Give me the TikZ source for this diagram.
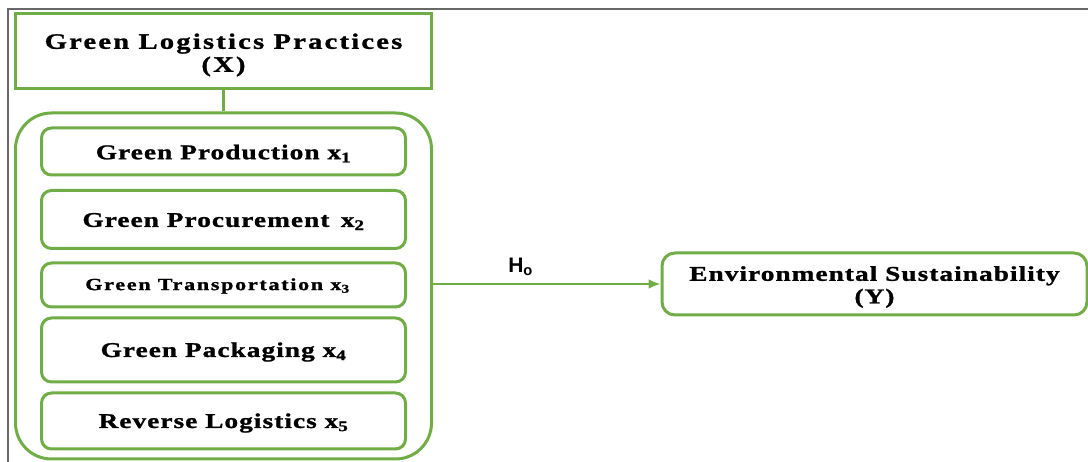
\documentclass[tikz,border=0pt]{standalone}
\usepackage{fontspec}
\setmainfont{Liberation Serif}
\newfontfamily\tb[FakeStretch=1.3,LetterSpace=5,FakeBold=1.2]{Liberation Serif}
\newfontfamily\tbw[FakeStretch=1.3,LetterSpace=10,FakeBold=1.2]{Liberation Serif}
\newfontfamily\hs{Liberation Sans}
\usetikzlibrary{arrows.meta}
\definecolor{gr}{RGB}{112,173,71}
\definecolor{fr}{RGB}{105,105,105}
\begin{document}
\begin{tikzpicture}[x=1pt,y=-1pt,
  gline/.style={draw=gr, line width=3pt},
  itembox/.style={gline, rounded corners=10pt, minimum width=364pt, inner sep=0pt},
  itemtext/.style={inner sep=0pt, align=center, yshift=-2pt, font=\tb\bfseries\fontsize{21}{24}\selectfont},
  bigtext/.style={inner sep=0pt, align=center, yshift=-4pt, font=\tbw\bfseries\fontsize{22}{23}\selectfont},
  frameline/.style={draw=fr, line width=2pt}]
\useasboundingbox (0,0) rectangle (1088,462);
\draw[frameline] (8,462) coordinate (fa) -- (8,9) coordinate (fb) -- (1088,9) coordinate (fc);
\node[gline, inner sep=0pt, minimum width=416pt, minimum height=75pt] (top) at (223.5,51) {};
\node[bigtext] (toptxt) at (top.center) {Green Logistics Practices\\(X)};
\node[gline, rounded corners=36pt, minimum width=416pt, minimum height=346pt, inner sep=0pt] (cont) at (223.5,286) {};
\node[itembox, minimum height=47pt] (p1) at (223.5,151.5) {};
\node[itemtext] (t1) at (p1.center) {Green Production x\textsubscript{1}};
\node[itembox, minimum height=58pt] (p2) at (223.5,219.5) {};
\node[itemtext] (t2) at (p2.center) {Green Procurement\, x\textsubscript{2}};
\node[itembox, minimum height=44pt] (p3) at (223.5,285) {};
\node[itemtext, yshift=1pt, xshift=-6pt, font=\tbw\bfseries\fontsize{17}{19}\selectfont] (t3) at (p3.center) {Green Transportation x\textsubscript{3}};
\node[itembox, minimum height=64pt] (p4) at (223.5,350) {};
\node[itemtext] (t4) at (p4.center) {Green Packaging x\textsubscript{4}};
\node[itembox, minimum height=56pt] (p5) at (223.5,421) {};
\node[itemtext] (t5) at (p5.center) {Reverse Logistics x\textsubscript{5}};
\node[gline, inner sep=0pt, rounded corners=13pt, minimum width=425pt, minimum height=62pt] (env) at (874.5,284) {};
\node[bigtext, yshift=1pt, font=\tb\bfseries\fontsize{21}{22.5}\selectfont] (envtxt) at (env.center) {Environmental Sustainability\\(Y)};
\draw[gline] (top.south) -- (cont.north);
\draw[gr, line width=2.5pt, -{Latex[length=12pt,width=10pt]}] (cont.east |- env.west) -- node[pos=0.385, above=4pt, text=black, font=\hs\bfseries\fontsize{21}{22}\selectfont] (h0) {H\textsubscript{o}} (env.west);
\end{tikzpicture}
\end{document}
